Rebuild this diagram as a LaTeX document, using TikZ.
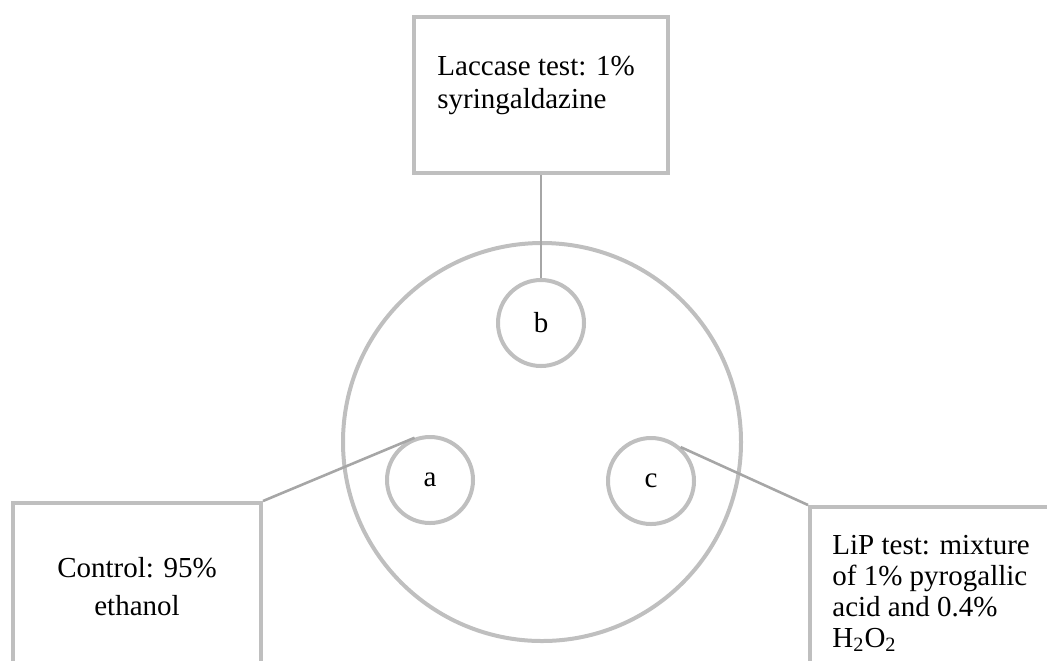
\documentclass[tikz,border=0pt]{standalone}
\usepackage{fontspec}
\setmainfont{Liberation Serif}
\usepackage{tikz}
\usetikzlibrary{calc,positioning}
\definecolor{borda}{HTML}{BFBFBF}
\definecolor{ligacao}{HTML}{A6A6A6}
\definecolor{texto}{HTML}{000000}

\begin{document}
\begin{tikzpicture}[x=0.5pt,y=-0.5pt, font=\fontsize{14.5}{16.5}\selectfont,
    caixa/.style={draw=borda, line width=2pt, fill=white, inner sep=0pt},
    poco/.style={circle, draw=borda, line width=2pt, minimum size=43pt, inner sep=0pt, text=texto},
    rot/.style={inner sep=0pt, text=texto, align=#1},
    lig/.style={draw=ligacao, line width=1.3pt}]
  \clip (0,0) rectangle (1047,660);
  % placa e pocos
  \node[circle, draw=borda, line width=2pt, minimum size=199pt] (placa) at (542,442) {};
  \node[poco] (pb) at (541,323) {b};
  \node[poco] (pa) at (430,480) {a};
  \node[poco] (pc) at (651,481) {c};
  % caixas
  \node[caixa, minimum width=127pt, minimum height=78pt] (lac) at (541,95) {};
  \node[caixa, minimum width=124pt, minimum height=110pt] (ctl) at (137,613) {};
  \node[caixa, minimum width=160pt, minimum height=110pt] (lip) at (970,617) {};
  \node[rot=left, anchor=north west] (lacT) at (437,56) {Laccase test: 1\%\\syringaldazine};
  \node[rot=center, font=\fontsize{14.5}{19}\selectfont] (ctlT) at (137,587) {Control: 95\%\\ethanol};
  \node[rot=left, anchor=north west, font=\fontsize{14.5}{15.5}\selectfont] (lipT) at (832,535)
    {LiP test: mixture\\of 1\% pyrogallic\\acid and 0.4\%\\H\textsubscript{2}O\textsubscript{2}};
  % ligacoes
  \draw[lig] (lac.south) -- (pb.north);
  \draw[lig] (ctl.north east) -- (pa.110);
  \draw[lig] (pc.49) -- (lip.north west);
\end{tikzpicture}
\end{document}
